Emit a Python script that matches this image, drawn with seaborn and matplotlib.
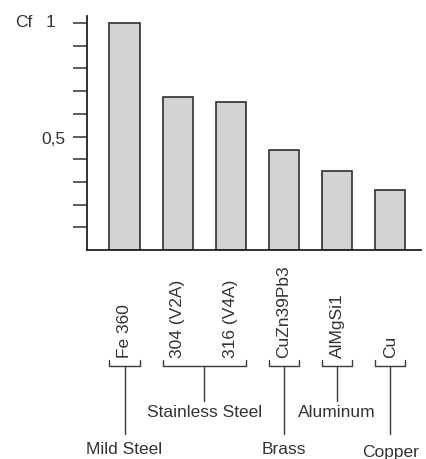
import matplotlib
matplotlib.use("Agg")
import matplotlib.pyplot as plt
import matplotlib.transforms as mtransforms
import pandas as pd
import seaborn as sns

# data
alloys = ["Fe 360", "304 (V2A)", "316 (V4A)", "CuZn39Pb3", "AlMgSi1", "Cu"]
cf_values = [1.0, 0.675, 0.65, 0.44, 0.35, 0.265]
groups = ["Mild Steel", "Stainless Steel", "Brass", "Aluminum", "Copper"]
group_first = [0, 1, 3, 4, 5]
group_last = [0, 2, 3, 4, 5]
y_ticks = [0.1, 0.2, 0.3, 0.4, 0.5, 0.6, 0.7, 0.8, 0.9, 1.0]
y_tick_labels = ["", "", "", "", "0,5", "", "", "", "", ""]

W, H = 426, 460
BAR_W = 0.57
TEXT_C = "#333333"
LINE_C = "#3a3a3a"

sns.set_style("white")
plt.rcParams["font.family"] = ["Liberation Sans", "DejaVu Sans"]

df = pd.DataFrame({"alloy": alloys, "cf": cf_values})

fig = plt.figure(figsize=(W / 100, H / 100), dpi=100)
ax = fig.add_axes([87 / W, (H - 251) / H, 334 / W, 234 / H])

sns.barplot(data=df, x="alloy", y="cf", color="#d2d3d5", saturation=1,
            edgecolor="#2e2e2e", linewidth=1.2, width=BAR_W, ax=ax)

ax.set_xlim(-0.706, 5.58)
ax.set_ylim(0, 1.031)
ax.set_xlabel("")
ax.set_ylabel("")
ax.set_xticks([])

for side in ["top", "right"]:
    ax.spines[side].set_visible(False)
for side in ["left", "bottom"]:
    ax.spines[side].set_linewidth(1.3)
    ax.spines[side].set_color("#222222")

ax.set_yticks(y_ticks)
ax.set_yticklabels(y_tick_labels)
ax.tick_params(axis="y", direction="out", length=10, width=1.1, color="#333333",
               pad=5.5, labelsize=12.5, labelcolor=TEXT_C, left=True)

# "Cf  1" label at the top of the axis
ylab = mtransforms.blended_transform_factory(ax.transAxes, ax.transData)
ax.text(-0.2156, 1.006, "Cf", transform=ylab, ha="left", va="center",
        fontsize=12.5, color=TEXT_C)
ax.text(-0.0958, 1.006, "1", transform=ylab, ha="right", va="center",
        fontsize=12.5, color=TEXT_C)

# labels and brackets below the axis (x in data, y in figure pixels)
tr = mtransforms.blended_transform_factory(ax.transData, fig.transFigure)


def fy(px):
    return 1 - px / H


for i, name in enumerate(alloys):
    ax.text(i, fy(358), name, transform=tr, rotation=90, ha="center",
            va="bottom", fontsize=12.5, color=TEXT_C, clip_on=False)

line_kw = dict(transform=tr, color=LINE_C, linewidth=1.0, clip_on=False)
for k, name in enumerate(groups):
    x0 = group_first[k] - BAR_W / 2
    x1 = group_last[k] + BAR_W / 2
    xc = (group_first[k] + group_last[k]) / 2
    ax.plot([x0, x0, x1, x1], [fy(361), fy(367), fy(367), fy(361)], **line_kw)
    low = k % 2 == 0
    drop = 435 if low else 402
    ax.plot([xc, xc], [fy(367), fy(drop)], **line_kw)
    base = 454 if low else 417
    if name == "Copper":
        base = 457
    ax.text(xc, fy(base), name, transform=tr, ha="center", va="baseline",
            fontsize=12.5, color=TEXT_C, clip_on=False)

fig.savefig("out.png", dpi=100)
